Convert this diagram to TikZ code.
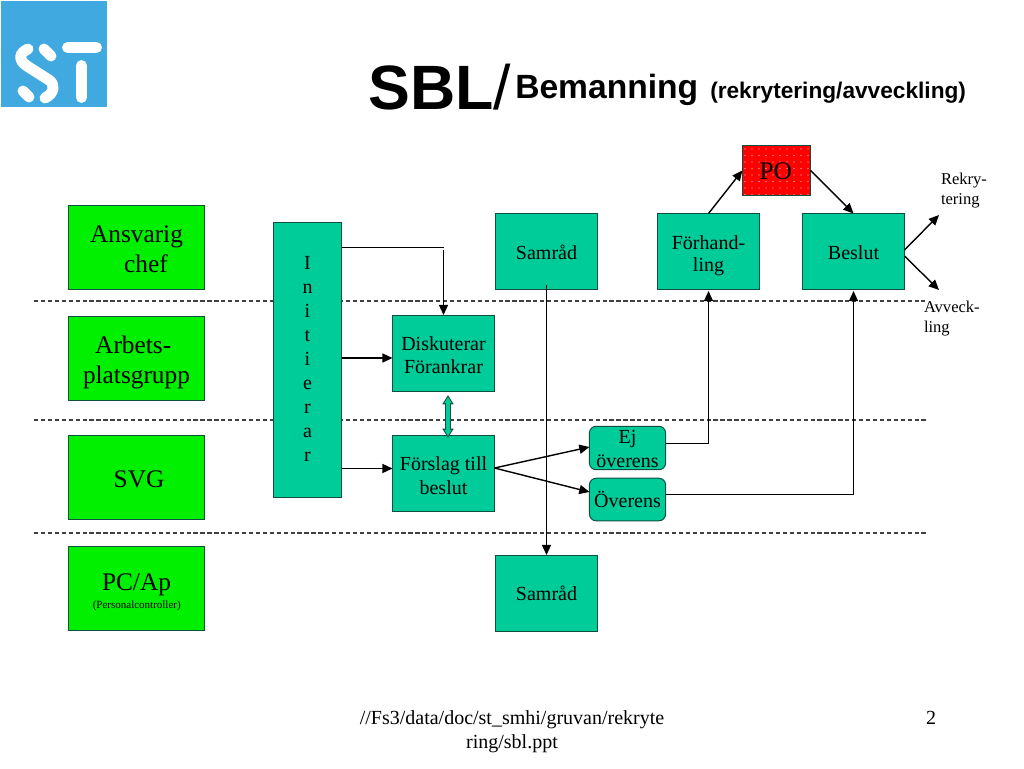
\documentclass[tikz,border=0pt]{standalone}
\usepackage{fontspec}
\setmainfont{Liberation Serif}
\newfontfamily\arialf{Liberation Sans}
\usetikzlibrary{arrows.meta,calc}
\definecolor{teal1}{HTML}{00CC99}
\definecolor{edge1}{HTML}{0E4F40}
\definecolor{lime1}{HTML}{00F000}
\definecolor{logoblue}{HTML}{3FA9E0}
\tikzset{
  x=.75pt,y=-.75pt,
  boxbase/.style={draw=edge1,line width=.75pt,inner sep=0pt,outer sep=0pt},
  leftbox/.style={boxbase,fill=lime1,minimum width=102pt,minimum height=63pt},
  tealbox/.style={boxbase,fill=teal1,minimum width=76.5pt,minimum height=57pt},
  roundbox/.style={boxbase,fill=teal1,rounded corners=5pt,minimum width=57.1pt},
  bigtxt/.style={inner sep=0pt,outer sep=0pt,align=center,text=black,font=\fontsize{19}{22.5}\selectfont},
  midtxt/.style={inner sep=0pt,outer sep=0pt,align=center,text=black,font=\fontsize{15}{18}\selectfont},
  conn/.style={draw=black,line width=1.05pt},
  arr/.style={conn,-{Triangle[length=7.6pt,width=6.8pt]}},
  swim/.style={draw=black!75,line width=.8pt,dash pattern=on 3.2pt off 2pt},
  note/.style={inner sep=0pt,outer sep=0pt,align=left,font=\fontsize{12.4}{15}\selectfont},
  footer/.style={inner sep=0pt,outer sep=0pt,align=center,font=\fontsize{15}{18}\selectfont},
  logostroke/.style={draw=white,line width=8.2pt,line cap=round,line join=round}
}
\begin{document}
\begin{tikzpicture}
\useasboundingbox (0,0) rectangle (1024,768);
% logo
\fill[logoblue] (1,1) rectangle (107,107);
\draw[logostroke] (67.5,47.5) -- (96.5,47.5);
\draw[logostroke] (81.5,65.5) -- (81.5,97.5);
\draw[logostroke] (28,49) .. controls (19,53) and (18,60) .. (27,66) -- (49,80) .. controls (55,84) and (55,93) .. (45,98);
\draw[logostroke] (44,49) -- (51,56);
\draw[logostroke] (23,91) -- (29,97);
% title
\node[inner sep=0pt,anchor=base west,font=\arialf\bfseries\fontsize{47}{50}\selectfont] (t1) at (368,109) {SBL};
\node[inner sep=0pt,anchor=base west,font=\arialf\fontsize{47}{50}\selectfont] (t1s) at (493.5,109) {/};
\node[inner sep=0pt,anchor=base west,font=\arialf\bfseries\fontsize{25.2}{28}\selectfont] (t2) at (515,98) {Bemanning};
\node[inner sep=0pt,anchor=base west,font=\arialf\bfseries\fontsize{17}{20}\selectfont] (t3) at (710,98) {(rekrytering/avveckling)};
% swimlanes
\coordinate (l1a) at (34,301); \coordinate (l1b) at (925,301);
\coordinate (l2a) at (34,420); \coordinate (l2b) at (927,420);
\coordinate (l3a) at (34,533); \coordinate (l3b) at (927,533);
\draw[swim] (l1a) -- (l1b);
\draw[swim] (l2a) -- (l2b);
\draw[swim] (l3a) -- (l3b);
% left column
\node[leftbox] (ans) at (136.5,247.5) {};
\node[bigtxt] (anst) at ([yshift=-1.4pt]ans.center) {Ansvarig\\\hspace*{.75em}chef};
\node[leftbox] (arb) at (136.5,358.5) {};
\node[bigtxt] (arbt) at ([yshift=-2.9pt]arb.center) {\hspace*{-.26em}Arbets-\\platsgrupp};
\node[leftbox] (svg) at (136.5,477.5) {};
\node[bigtxt] (svgt) at ([yshift=-1.4pt]svg.center) {\hspace*{.2em}SVG};
\node[leftbox] (pc) at (136.5,588.5) {};
\node[bigtxt] (pct) at (136.5,585) {PC/Ap};
\node[inner sep=0pt,font=\fontsize{8.25}{9}\selectfont] (pcs) at (136.75,606) {(Personalcontroller)};
% process
\node[tealbox,minimum width=51.2pt,minimum height=206.6pt] (ini) at (307.5,360) {};
\node[midtxt] (init) at ([yshift=.5pt]ini.center) {I\\n\\i\\t\\i\\e\\r\\a\\r};
\node[tealbox] (dis) at (443.5,353.5) {};
\node[midtxt,font=\fontsize{15}{17.2}\selectfont] (dist) at ([yshift=-1pt]dis.center) {Diskuterar\\Förankrar};
\node[tealbox] (for) at (443.5,473.5) {};
\node[midtxt] (fort) at ([yshift=-1.4pt]for.center) {Förslag till\\beslut};
\node[tealbox] (sam1) at (546.5,251.5) {};
\node[midtxt] (sam1t) at ([yshift=-.6pt]sam1.center) {Samråd};
\node[tealbox] (sam2) at (546.5,593) {};
\node[midtxt] (sam2t) at ([yshift=-.6pt]sam2.center) {Samråd};
\node[tealbox] (fh) at (708.5,251.5) {};
\node[midtxt,font=\fontsize{15}{16.5}\selectfont] (fht) at ([yshift=-2.9pt]fh.center) {Förhand-\\ling};
\node[tealbox] (bes) at (853.5,251.5) {};
\node[midtxt] (best) at ([yshift=-.6pt]bes.center) {Beslut};
\node[roundbox,minimum height=32.6pt] (ej) at (627.5,448) {};
\node[midtxt] (ejt) at ([yshift=-.8pt]ej.center) {Ej\\överens};
\node[roundbox,minimum height=31.9pt] (ov) at (627.5,499.5) {};
\node[midtxt] (ovt) at (ov.center) {Överens};
% PO
\node[boxbase,fill=red,minimum width=51.2pt,minimum height=38pt] (po) at (776.5,170.5) {};
\foreach \i in {0,...,9}{\foreach \j in {0,...,7}{
  \fill[white!85!red] ({745+\i*7},{149+\j*6.5}) circle (.45pt);}}
\node[inner sep=0pt,font=\fontsize{19}{22}\selectfont,text=black] (potext) at ([shift={(-.5pt,-.7pt)}]po.center) {PO};
% notes
\node[note,anchor=north west] (rek) at (941,173) {Rekry-\\tering};
\node[note,anchor=north west] (avv) at (924,301) {Avveck-\\ling};
% connector points
\coordinate (i1) at (ini.east |- 0,247.5);
\coordinate (c1) at (443.5,247.5);
\coordinate (c2) at (443.5,250);
\coordinate (d1) at (443.5,315);
\coordinate (i2) at (ini.east |- 0,358);
\coordinate (d2) at (dis.west |- 0,358);
\coordinate (i3) at (ini.east |- 0,468.5);
\coordinate (f3) at (for.west |- 0,468.5);
\coordinate (s1) at (546.5,285);
\coordinate (s2) at (546.5,555);
\coordinate (f0) at (for.east |- 0,468);
\coordinate (e0) at (ej.west |- 0,447);
\coordinate (o0) at (ov.west |- 0,492);
\coordinate (e1) at (ej.east |- 0,443.5);
\coordinate (e2) at (708.5,443.5);
\coordinate (e3) at (708.5,291);
\coordinate (o1) at (ov.east |- 0,494.5);
\coordinate (o2) at (853.5,494.5);
\coordinate (o3) at (853.5,291);
\coordinate (b1) at (bes.east |- 0,250);
\coordinate (b2) at (bes.east |- 0,256);
\coordinate (rt) at (939,215);
\coordinate (at) at (939,290);
% connectors
\draw[conn] (i1) -- (c1);
\draw[arr] (c2) -- (d1);
\draw[arr] (i2) -- (d2);
\draw[arr] (i3) -- (f3);
\draw[arr] (s1) -- (s2);
\draw[arr] (f0) -- (e0);
\draw[arr] (f0) -- (o0);
\draw[conn] (e1) -- (e2);
\draw[arr] (e2) -- (e3);
\draw[conn] (o1) -- (o2);
\draw[arr] (o2) -- (o3);
\draw[arr] (fh.north) -- (po.west);
\draw[arr] (po.east) -- (bes.north);
\draw[arr] (b1) -- (rt);
\draw[arr] (b2) -- (at);
% double arrow
\coordinate (da) at (448,395); \coordinate (db) at (448,438);
\draw[edge1,line width=4.2pt,{Triangle[length=7pt,width=8pt]}-{Triangle[length=7pt,width=8pt]}] (da) -- (db);
\draw[teal1,line width=2.7pt,shorten <=1.5pt,shorten >=1.5pt,{Triangle[length=4.5pt,width=5.2pt]}-{Triangle[length=4.5pt,width=5.2pt]}] (da) -- (db);
% footer
\node[footer] (foot) at (512,732) {//Fs3/data/doc/st\_smhi/gruvan/rekryte\\ring/sbl.ppt};
\node[footer] (pg) at (931,718) {2};
\end{tikzpicture}
\end{document}
